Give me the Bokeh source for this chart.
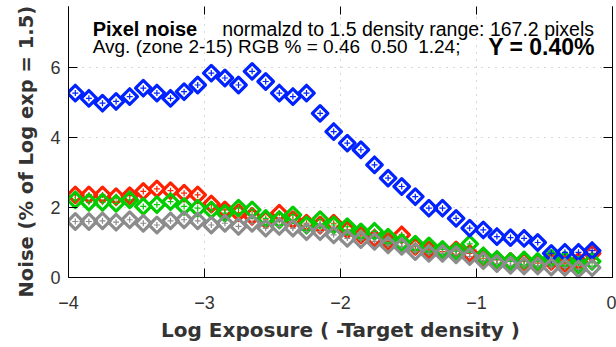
import math
from bokeh.plotting import figure
from bokeh.models import Range1d, LinearAxis, FixedTicker, Label, CustomLabelingPolicy
from bokeh.embed import file_html
from bokeh.resources import INLINE

# ---------------- data ----------------
x_vals = [-3.95, -3.85, -3.75, -3.65, -3.55, -3.45, -3.35, -3.25, -3.15, -3.05,
          -2.95, -2.85, -2.75, -2.65, -2.55, -2.45, -2.35, -2.25, -2.15, -2.05,
          -1.95, -1.85, -1.75, -1.65, -1.55, -1.45, -1.35, -1.25, -1.15,
          -1.05, -0.95, -0.85, -0.75, -0.65, -0.55, -0.45, -0.35, -0.25, -0.15]

red_noise = [2.36, 2.36, 2.36, 2.31, 2.34, 2.46, 2.53, 2.48, 2.41, 2.36,
             2.10, 1.93, 1.85, 1.75, 1.65, 1.84, 1.65, 1.55, 1.50, 1.55,
             1.36, 1.22, 1.12, 1.03, 1.22, 0.89, 0.79, 0.74, 0.79,
             0.69, 0.55, 0.50, 0.46, 0.46, 0.41, 0.46, 0.41, 0.46, 0.69]

green_noise = [2.22, 2.15, 2.15, 2.12, 2.22, 2.03, 2.08, 2.17, 2.03, 1.98,
               1.93, 1.84, 1.98, 1.93, 1.69, 1.65, 1.79, 1.50, 1.65, 1.50,
               1.45, 1.30, 1.32, 1.15, 1.00, 0.95, 0.90, 0.80, 0.75,
               0.96, 0.62, 0.52, 0.46, 0.50, 0.46, 0.55, 0.50, 0.36, 0.46]

blue_noise = [5.27, 5.12, 4.98, 5.03, 5.17, 5.41, 5.27, 5.12, 5.31, 5.50,
              5.84, 5.70, 5.50, 5.89, 5.60, 5.27, 5.17, 5.27, 4.69, 4.17,
              3.84, 3.65, 3.22, 2.84, 2.60, 2.31, 1.98, 1.98, 1.69,
              1.41, 1.36, 1.17, 1.14, 1.12, 1.00, 0.69, 0.72, 0.72, 0.77]

gray_noise = [1.60, 1.60, 1.62, 1.58, 1.65, 1.55, 1.50, 1.62, 1.65, 1.62,
              1.50, 1.55, 1.46, 1.55, 1.41, 1.46, 1.41, 1.31, 1.31, 1.22,
              1.12, 1.08, 1.03, 0.93, 0.89, 0.74, 0.69, 0.69, 0.65,
              0.60, 0.48, 0.40, 0.35, 0.33, 0.33, 0.30, 0.29, 0.24, 0.28]

x_ticks = [-4, -3, -2, -1, 0]
y_ticks = [0, 2, 4, 6]

title_bold = "Pixel noise"
title_rest = "normalzd to 1.5 density range: 167.2 pixels"
avg_text = "Avg. (zone 2-15) RGB % = 0.46\u00a0 0.50\u00a0 1.24;"
y_text = "Y = 0.40%"
x_label = "Log Exposure ( -Target density )"
y_label = "Noise (% of Log exp = 1.5)"

# ---------------- figure ----------------
p = figure(width=616, height=347, output_backend="svg", toolbar_location=None,
           x_range=Range1d(-4, 0), y_range=Range1d(0, 7.743),
           min_border_left=68, min_border_right=2, min_border_top=6,
           min_border_bottom=70, x_axis_label=x_label,
           title=y_label, title_location="left")
p.outline_line_color = None
p.background_fill_color = "white"
p.border_fill_color = "white"

tick_col = "#333333"

# y-axis title drawn as the plot title on the left side
p.title.text_font = "DejaVu Sans"
p.title.text_font_size = "19.5px"
p.title.text_font_style = "bold"
p.title.text_color = tick_col
p.title.align = "left"
p.title.offset = -20
p.title.standoff = 20

for ax, ticks in ((p.xaxis[0], x_ticks), (p.yaxis[0], y_ticks)):
    ax.ticker = FixedTicker(ticks=ticks)
    ax.axis_line_color = "black"
    ax.major_tick_line_color = "black"
    ax.major_tick_in = 9
    ax.major_tick_out = 0
    ax.minor_tick_line_color = None
    ax.major_label_text_font = "Liberation Sans"
    ax.major_label_text_font_size = "18px"
    ax.major_label_text_color = tick_col
p.xaxis[0].axis_label_text_font = "DejaVu Sans"
p.xaxis[0].axis_label_text_font_style = "bold"
p.xaxis[0].axis_label_text_color = tick_col
p.xaxis[0].axis_label_text_font_size = "20px"
p.xaxis[0].major_label_standoff = 18
p.xaxis[0].axis_label_standoff = 6
p.yaxis[0].major_label_standoff = 8

right_ax = LinearAxis(ticker=FixedTicker(ticks=y_ticks), major_tick_in=9, major_tick_out=0,
                      major_label_policy=CustomLabelingPolicy(code="return []"),
                      major_label_text_font_size="1px", major_label_standoff=0,
                      minor_tick_line_color=None, axis_line_color="black")
p.add_layout(right_ax, "right")
top_ax = LinearAxis(ticker=FixedTicker(ticks=x_ticks), major_tick_in=8, major_tick_out=0,
                    major_label_policy=CustomLabelingPolicy(code="return []"),
                    major_label_text_font_size="1px", major_label_standoff=0,
                    minor_tick_line_color=None, axis_line_color=None)
p.add_layout(top_ax, "above")

for g in (p.xgrid[0], p.ygrid[0]):
    g.grid_line_color = "#b0b0b0"
    g.grid_line_dash = "1 6"
    g.grid_line_width = 1
p.xgrid[0].ticker = FixedTicker(ticks=x_ticks)
p.ygrid[0].ticker = FixedTicker(ticks=y_ticks)

series = [(red_noise, "#ff2200"), (green_noise, "#00cc00"),
          (blue_noise, "#0022ff"), (gray_noise, "#8c8c8c")]
for vals, col in series:
    p.scatter(x_vals, vals, marker="square", angle=math.pi / 4, size=11,
              line_color=col, line_width=3.2, fill_color=None, line_join="round")
    p.scatter(x_vals, vals, marker="cross", size=6, line_color=col, line_width=1.2)

p.add_layout(Label(x=-3.822, y=7.114, text=title_bold, text_font="Liberation Sans",
                   text_font_size="20px", text_font_style="bold", text_color="black",
                   text_baseline="alphabetic"))
p.add_layout(Label(x=-2.870, y=7.114, text=title_rest, text_font="Liberation Sans",
                   text_font_size="19.5px", text_color="black", text_baseline="alphabetic"))
p.add_layout(Label(x=-3.822, y=6.6, text=avg_text, text_font="Liberation Sans",
                   text_font_size="19px", text_color="black", text_baseline="alphabetic"))
p.add_layout(Label(x=-0.914, y=6.6, text=y_text, text_font="Liberation Sans",
                   text_font_size="23px", text_font_style="bold", text_color="black",
                   text_baseline="alphabetic"))

open("out.html", "w").write(file_html(p, INLINE))
